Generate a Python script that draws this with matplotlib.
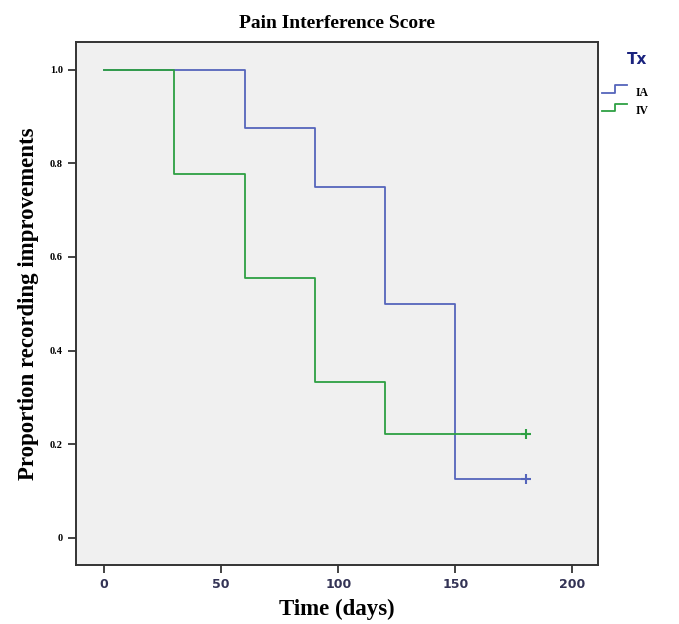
import matplotlib
matplotlib.use("Agg")
import matplotlib.pyplot as plt
from matplotlib.lines import Line2D

# step times and survival proportions
ia_t = [0, 60, 90, 120, 150, 180]
ia_s = [1.0, 0.875, 0.75, 0.5, 0.125, 0.125]
iv_t = [0, 30, 60, 90, 120, 180]
iv_s = [1.0, 0.778, 0.556, 0.333, 0.222, 0.222]

x_ticks = [0, 50, 100, 150, 200]
y_ticks = [0, 0.2, 0.4, 0.6, 0.8, 1.0]
y_labels = ["0", "0.2", "0.4", "0.6", "0.8", "1.0"]

blue = "#5565bb"
green = "#2ea043"

fig = plt.figure(figsize=(6.79, 6.24), dpi=100)
ax = fig.add_axes([0.112, 0.095, 0.769, 0.838])
ax.set_facecolor("#f0f0f0")

ax.step(ia_t, ia_s, where="post", color=blue, lw=1.3)
ax.step(iv_t, iv_s, where="post", color=green, lw=1.3)
ax.plot(ia_t[-1], ia_s[-1], marker="+", color=blue, ms=7, mew=1.5)
ax.plot(iv_t[-1], iv_s[-1], marker="+", color=green, ms=7, mew=1.5)

ax.set_xlim(-12, 211)
ax.set_ylim(-0.058, 1.06)
ax.set_xticks(x_ticks)
ax.set_xticklabels([str(v) for v in x_ticks], fontsize=9, color="#333355",
                   fontweight="bold", fontfamily="DejaVu Sans")
ax.set_yticks(y_ticks)
ax.set_yticklabels(y_labels, fontsize=7.5, fontweight="bold",
                   fontfamily="Liberation Serif")
ax.tick_params(axis="both", direction="out", length=6, width=1.2, color="#222222")
for sp in ax.spines.values():
    sp.set_linewidth(1.4)
    sp.set_color("#333333")

ax.set_title("Pain Interference Score", fontsize=14, fontweight="bold",
             fontfamily="Liberation Serif", pad=10)
ax.set_xlabel("Time (days)", fontsize=16.5, fontweight="bold",
              fontfamily="Liberation Serif", labelpad=6)
ax.set_ylabel("Proportion recording improvements", fontsize=16.5,
              fontweight="bold", fontfamily="Liberation Serif", labelpad=8)

# legend outside the frame
fig.text(0.938, 0.905, "Tx", fontsize=11, fontweight="bold", color="#1a237e",
         fontfamily="DejaVu Sans", ha="center", va="center")
for i, (lab, col) in enumerate([("IA", blue), ("IV", green)]):
    y0 = 0.857 - i * 0.029
    xs = [0.886, 0.906, 0.906, 0.924]
    ys = [y0 - 0.006, y0 - 0.006, y0 + 0.006, y0 + 0.006]
    fig.add_artist(Line2D(xs, ys, color=col, lw=1.3, transform=fig.transFigure))
    fig.text(0.936, y0 - 0.006, lab, fontsize=8.5, fontweight="bold",
             fontfamily="Liberation Serif", va="center")

fig.savefig("out.png", dpi=100)
